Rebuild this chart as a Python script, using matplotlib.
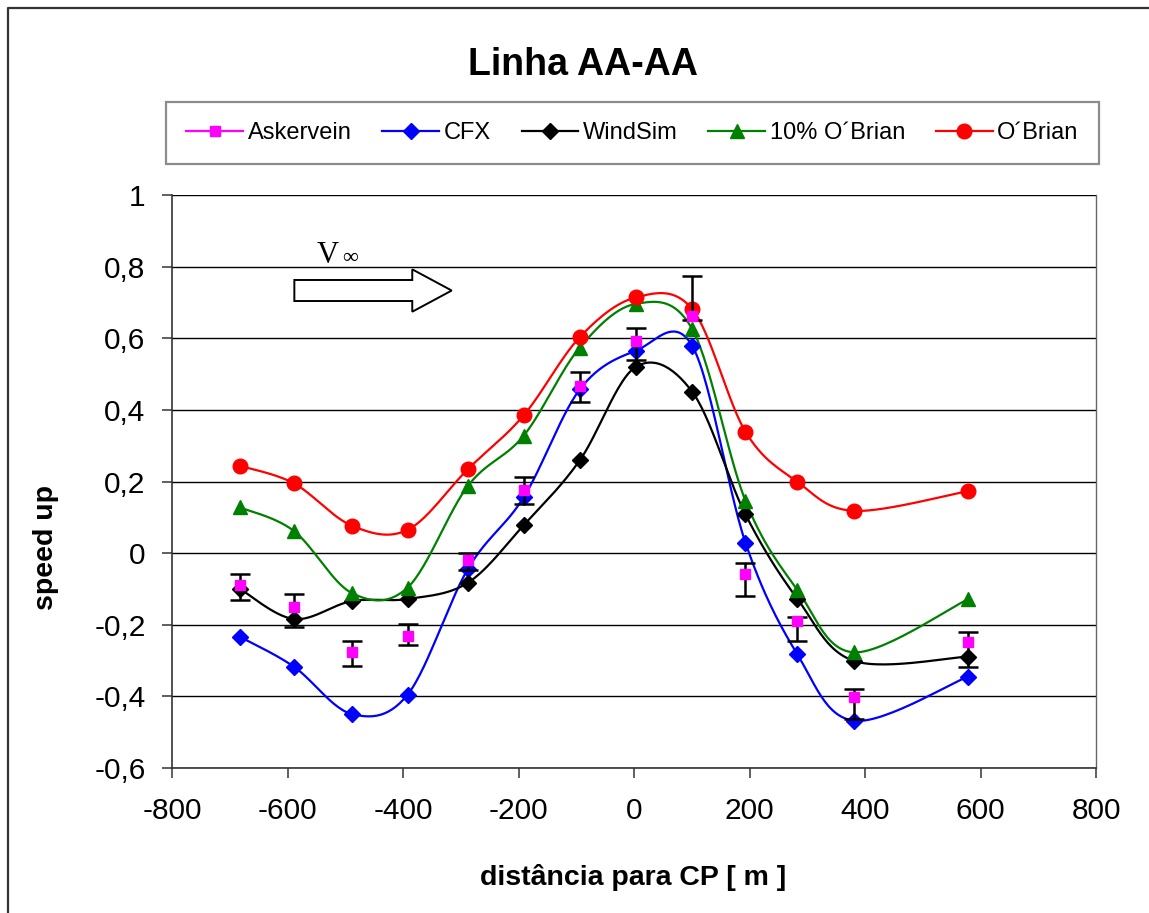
import numpy as np
import matplotlib
matplotlib.use("Agg")
import matplotlib.pyplot as plt
from matplotlib.lines import Line2D
from matplotlib.patches import Polygon, Rectangle

plt.rcParams['font.family'] = ['Liberation Sans', 'DejaVu Sans']

# Measurement positions along line AA (distance to CP, m)
x_pos = [-683, -589, -489, -392, -288, -191, -94, 3, 101, 193, 283, 381, 578]

# Speed-up values per series
askervein = [-0.090, -0.151, -0.275, -0.230, -0.020, 0.176, 0.467, 0.591, 0.663,
             -0.057, -0.190, -0.403, -0.247]
askervein_hi = [-0.059, -0.115, -0.244, -0.199, 0.001, 0.213, 0.505, 0.628, 0.774,
                -0.027, -0.178, -0.378, -0.221]
askervein_lo = [-0.132, -0.205, -0.316, -0.257, -0.047, 0.136, 0.421, 0.539, 0.650,
                -0.121, -0.245, -0.462, -0.317]
cfx = [-0.233, -0.317, -0.449, -0.395, -0.045, 0.156, 0.457, 0.565, 0.578,
       0.029, -0.283, -0.468, -0.345]
windsim = [-0.099, -0.184, -0.134, -0.128, -0.083, 0.078, 0.259, 0.520, 0.450,
           0.108, -0.128, -0.301, -0.289]
obrian10 = [0.128, 0.062, -0.111, -0.096, 0.187, 0.328, 0.574, 0.696, 0.625,
            0.146, -0.103, -0.277, -0.129]
obrian = [0.244, 0.195, 0.077, 0.065, 0.234, 0.385, 0.603, 0.714, 0.681,
          0.339, 0.199, 0.118, 0.173]

x_ticks = [-800, -600, -400, -200, 0, 200, 400, 600, 800]
x_tick_labels = ['-800', '-600', '-400', '-200', '0', '200', '400', '600', '800']
y_ticks = [-0.6, -0.4, -0.2, 0.0, 0.2, 0.4, 0.6, 0.8, 1.0]
y_tick_labels = ['-0,6', '-0,4', '-0,2', '0', '0,2', '0,4', '0,6', '0,8', '1']

labels = ['Askervein', 'CFX', 'WindSim', '10% O\u00b4Brian', 'O\u00b4Brian']


def smooth_curve(x, y, n=30):
    """Spreadsheet-style smoothed line: cubic Bezier through the points."""
    p = np.column_stack([x, y]).astype(float)
    p = np.vstack([p[0], p, p[-1]])
    t = np.linspace(0, 1, n)[:, None]
    segs = []
    for i in range(1, len(p) - 2):
        p0, p1, p2, p3 = p[i - 1], p[i], p[i + 1], p[i + 2]
        c1 = p1 + (p2 - p0) / 6.0
        c2 = p2 - (p3 - p1) / 6.0
        b = ((1 - t) ** 3) * p1 + 3 * ((1 - t) ** 2) * t * c1 \
            + 3 * (1 - t) * t ** 2 * c2 + t ** 3 * p2
        segs.append(b if i == 1 else b[1:])
    out = np.vstack(segs)
    return out[:, 0], out[:, 1]


fig = plt.figure(figsize=(11.49, 9.13), dpi=100)

# outer chart frame (only its top and left edges fall inside the canvas)
fig.add_artist(Line2D([8 / 1149, 8 / 1149, 1.0], [0.0, 1 - 8 / 913, 1 - 8 / 913],
                      transform=fig.transFigure, color='#333333',
                      linewidth=1.6, zorder=0))

ax = fig.add_axes([0.1497, 0.1588, 0.8042, 0.6276])

ax.set_xlim(-800, 800)
ax.set_ylim(-0.6, 1.0)
ax.set_xticks(x_ticks)
ax.set_xticklabels(x_tick_labels)
ax.set_yticks(y_ticks)
ax.set_yticklabels(y_tick_labels)
ax.tick_params(axis='both', direction='out', length=7, width=1.2,
               labelsize=21.5, colors='#444444', labelcolor='black')
ax.tick_params(axis='x', pad=14)
ax.tick_params(axis='y', pad=12)
ax.grid(axis='y', color='black', linewidth=1.0)
ax.set_axisbelow(True)
for side in ['left', 'bottom']:
    ax.spines[side].set_color('#333333')
    ax.spines[side].set_linewidth(1.2)
ax.spines['top'].set_visible(False)
ax.spines['right'].set_color('#666666')
ax.spines['right'].set_linewidth(1.0)

series = [
    (cfx, '#0000FF', 'D', 8.5),
    (windsim, 'black', 'D', 8.5),
    (obrian10, '#008000', '^', 10.5),
    (obrian, '#FF0000', 'o', 10.5),
]
for vals, col, mk, ms in series:
    sx, sy = smooth_curve(x_pos, vals)
    ax.plot(sx, sy, color=col, linewidth=1.6, zorder=3)
    ax.plot(x_pos, vals, linestyle='none', marker=mk, markersize=ms,
            color=col, markeredgecolor=col, zorder=4)

ask = np.array(askervein)
yerr = [ask - np.array(askervein_lo), np.array(askervein_hi) - ask]
ax.errorbar(x_pos, askervein, yerr=yerr, fmt='s', color='#FF00FF',
            markersize=6.5, ecolor='black', elinewidth=1.8, capsize=7,
            capthick=1.8, zorder=5)

# free-stream wind direction arrow
arrow = Polygon([(0.1324, 0.8150), (0.2600, 0.8150), (0.2600, 0.7963),
                 (0.3027, 0.8333), (0.2600, 0.8703), (0.2600, 0.8517),
                 (0.1324, 0.8517)], closed=True, transform=ax.transAxes,
                facecolor='white', edgecolor='black', linewidth=1.4, zorder=6)
ax.add_patch(arrow)
ax.text(0.1566, 0.8818, 'V', transform=ax.transAxes, fontsize=22,
        family=['Liberation Serif', 'DejaVu Serif'], ha='left', va='baseline')
ax.text(0.1845, 0.8818, '\u221e', transform=ax.transAxes, fontsize=16,
        family=['Liberation Serif', 'DejaVu Serif'], ha='left', va='baseline')

fig.text(583 / 1149, 1 - 75 / 913, 'Linha AA-AA', fontsize=27, fontweight='bold',
         ha='center', va='baseline')
fig.text(633 / 1149, 1 - 884.5 / 913, 'dist\u00e2ncia para CP [ m ]', fontsize=20.5,
         fontweight='bold', ha='center', va='baseline')
fig.text(46 / 1149, 1 - 548 / 913, 'speed up', fontsize=20.5, fontweight='bold',
         ha='center', va='center', rotation=90)

handles = [
    Line2D([], [], color='#FF00FF', marker='s', markersize=6.5, linewidth=1.6),
    Line2D([], [], color='#0000FF', marker='D', markersize=8.5, linewidth=1.6),
    Line2D([], [], color='black', marker='D', markersize=8.5, linewidth=1.6),
    Line2D([], [], color='#008000', marker='^', markersize=10.5, linewidth=1.6),
    Line2D([], [], color='#FF0000', marker='o', markersize=10.5, linewidth=1.6),
]
leg = fig.legend(handles, labels, loc='center', bbox_to_anchor=(0.5505, 0.8543),
                 ncol=5, frameon=True, fancybox=False, fontsize=17,
                 handlelength=2.4, handletextpad=0.2, columnspacing=1.3,
                 borderpad=0.85)
leg.get_frame().set_edgecolor('#707070')
leg.get_frame().set_linewidth(1.6)

fig.savefig('out.png', dpi=100)
